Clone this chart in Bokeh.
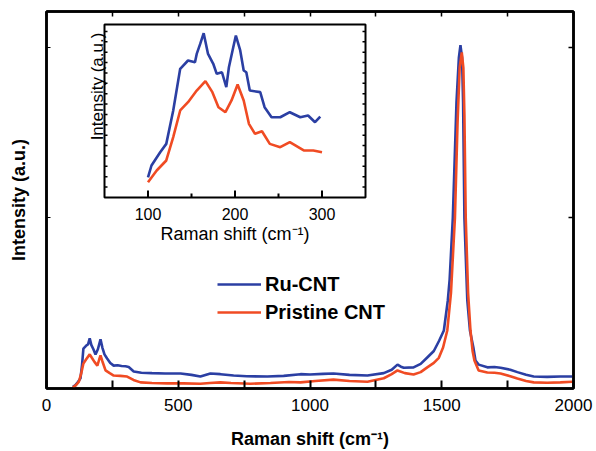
from bokeh.plotting import figure
from bokeh.models import (Range1d, LinearAxis, FixedTicker, Legend, LegendItem)
from bokeh.core.properties import value
from bokeh.embed import file_html
from bokeh.resources import INLINE

# ---------------- data ----------------
ru_x = [100, 110, 120, 129, 135, 140, 150, 158, 164, 170, 178, 186, 195, 205, 212, 220, 230, 242,
        255, 270, 285, 300, 312, 331, 360, 400, 450, 509, 550, 584, 622, 660, 710, 760, 838, 900,
        964, 1000, 1050, 1089, 1150, 1218, 1280, 1310, 1332, 1345, 1356, 1393, 1420, 1445, 1470,
        1490, 1508, 1523, 1530, 1542, 1556, 1565, 1571, 1577, 1581, 1586, 1597, 1607, 1620, 1628,
        1640, 1673, 1700, 1723, 1760, 1787, 1820, 1849, 1900, 1950, 1996]
ru_y = [0.005, 0.01, 0.02, 0.03, 0.07, 0.117, 0.125, 0.13, 0.147, 0.128, 0.115, 0.10, 0.115, 0.144,
        0.12, 0.10, 0.088, 0.075, 0.067, 0.068, 0.066, 0.065, 0.063, 0.05, 0.046, 0.045, 0.044,
        0.044, 0.040, 0.035, 0.044, 0.042, 0.038, 0.036, 0.035, 0.037, 0.042, 0.041, 0.043, 0.044,
        0.040, 0.038, 0.045, 0.055, 0.07, 0.064, 0.061, 0.062, 0.072, 0.091, 0.11, 0.14, 0.17,
        0.258, 0.32, 0.5, 0.84, 0.97, 1.006, 0.97, 0.84, 0.5, 0.258, 0.17, 0.12, 0.082, 0.07,
        0.062, 0.063, 0.061, 0.055, 0.048, 0.04, 0.035, 0.034, 0.035, 0.035]

pr_x = [100, 112, 123, 132, 140, 150, 164, 172, 182, 193, 200, 205, 212, 224, 240, 255, 280, 306,
        330, 357, 400, 458, 520, 584, 620, 660, 700, 774, 850, 920, 964, 1020, 1089, 1150, 1218,
        1280, 1310, 1332, 1360, 1393, 1420, 1445, 1470, 1489, 1505, 1521, 1535, 1550, 1560, 1568,
        1576, 1582, 1586, 1591, 1600, 1609, 1617, 1624, 1640, 1673, 1700, 1723, 1760, 1787, 1820,
        1849, 1900, 1950, 1996]
pr_y = [0.003, 0.01, 0.02, 0.045, 0.073, 0.085, 0.10, 0.09, 0.078, 0.067, 0.085, 0.097, 0.08,
        0.053, 0.045, 0.038, 0.037, 0.035, 0.025, 0.018, 0.016, 0.015, 0.015, 0.014, 0.016, 0.018,
        0.016, 0.014, 0.016, 0.019, 0.018, 0.022, 0.026, 0.022, 0.02, 0.03, 0.042, 0.053, 0.045,
        0.041, 0.048, 0.062, 0.075, 0.09, 0.12, 0.17, 0.28, 0.5, 0.78, 0.94, 0.985, 0.94, 0.8,
        0.5, 0.28, 0.17, 0.11, 0.082, 0.053, 0.047, 0.046, 0.044, 0.036, 0.029, 0.022, 0.018,
        0.017, 0.018, 0.02]

# inset (low-frequency RBM region)
in_ru_x = [100, 104, 114, 121, 129, 137, 146, 154, 156, 160, 164, 169, 175, 179, 185, 190, 193,
           198, 201, 206, 210, 213, 217, 229, 234, 242, 252, 263, 275, 284, 292, 298]
in_ru_y = [0.117, 0.185, 0.262, 0.31, 0.503, 0.744, 0.792, 0.782, 0.83, 0.888, 0.95, 0.83, 0.773,
           0.715, 0.724, 0.638, 0.753, 0.869, 0.936, 0.85, 0.734, 0.724, 0.618, 0.609, 0.522,
           0.464, 0.464, 0.493, 0.464, 0.474, 0.435, 0.468]
in_pr_x = [100, 110, 121, 129, 137, 146, 156, 166, 174, 181, 189, 196, 203, 210, 216, 223, 231,
           240, 252, 263, 279, 290, 300]
in_pr_y = [0.088, 0.156, 0.214, 0.349, 0.503, 0.551, 0.618, 0.673, 0.609, 0.522, 0.493, 0.561,
           0.653, 0.561, 0.426, 0.368, 0.383, 0.31, 0.291, 0.32, 0.272, 0.272, 0.262]

series_names = ["Ru-CNT", "Pristine CNT"]
main_xticks = [0, 250, 500, 750, 1000, 1250, 1500, 1750, 2000]
main_xlabels = {0: "0", 250: "", 500: "500", 750: "", 1000: "1000", 1250: "",
                1500: "1500", 1750: "", 2000: "2000"}
main_yticks = [0.5, 1.0]
inset_major_ticks = [100, 200, 300]
inset_minor_ticks = [150, 250]
inset_tick_labels = ["100", "200", "300"]
inset_yticks = [0.06 * k for k in range(1, 17)]

# ---------------- style / layout ----------------
BLUE = "#2B3FA3"
RED = "#F04B23"
FONT = "Liberation Sans"
W, H = 596, 451
FL, FR, FT, FB = 46, 573, 11, 388          # main frame (screen px)
IL, IR, IT, IB = 104, 365, 24, 197         # inset box (screen px)
IX0, IX1, IY0, IY1 = 50, 350, 0.0, 1.0     # inset data limits

p = figure(width=W, height=H, x_range=Range1d(0, 2000), y_range=Range1d(0, 1.105),
           output_backend="svg", toolbar_location=None,
           min_border_left=FL, min_border_right=W - FR, min_border_top=FT,
           min_border_bottom=H - FB)
p.background_fill_color = "white"
p.border_fill_color = "white"
p.outline_line_color = "black"
p.outline_line_width = 2.5
p.xgrid.grid_line_color = None
p.ygrid.grid_line_color = None

# bottom axis
xa = p.xaxis[0]
xa.ticker = FixedTicker(ticks=main_xticks)
xa.major_label_overrides = main_xlabels
xa.major_tick_in = 8
xa.major_tick_out = 0
xa.major_tick_line_width = 2
xa.major_tick_line_color = "black"
xa.minor_tick_line_color = None
xa.axis_line_width = 2.5
xa.axis_line_color = "black"
xa.major_label_text_font = FONT
xa.major_label_text_font_size = "17px"
xa.major_label_text_color = "black"
xa.major_label_standoff = 10
xa.axis_label = "Raman shift (cm\u207b\u00b9)"
xa.axis_label_text_font = FONT
xa.axis_label_text_font_style = "bold"
xa.axis_label_text_font_size = "18px"
xa.axis_label_text_color = "black"
xa.axis_label_standoff = 15

# left axis
ya = p.yaxis[0]
ya.ticker = FixedTicker(ticks=main_yticks)
ya.major_label_overrides = {t: "" for t in main_yticks}
ya.major_label_text_font_size = "1px"
ya.major_tick_in = 4
ya.major_tick_out = 0
ya.major_tick_line_color = "black"
ya.minor_tick_line_color = None
ya.axis_line_width = 2.5
ya.axis_line_color = "black"
ya.axis_label = "Intensity (a.u.)"
ya.axis_label_text_font = FONT
ya.axis_label_text_font_style = "bold"
ya.axis_label_text_font_size = "18px"
ya.axis_label_text_color = "black"
ya.axis_label_standoff = 18

# mirrored top / right axes (ticks only)
top = LinearAxis(ticker=FixedTicker(ticks=main_xticks),
                 major_label_overrides={t: "" for t in main_xticks},
                 major_label_text_font_size="1px", major_tick_in=5, major_tick_out=0,
                 minor_tick_line_color=None, axis_line_width=2.5, major_tick_line_width=1.5,
                 axis_line_color="black", major_tick_line_color="black")
p.add_layout(top, "above")
right = LinearAxis(ticker=FixedTicker(ticks=main_yticks),
                   major_label_overrides={t: "" for t in main_yticks},
                   major_label_text_font_size="1px", major_tick_in=5, major_tick_out=0,
                   minor_tick_line_color=None, axis_line_width=2.5, major_tick_line_width=1.5,
                   axis_line_color="black", major_tick_line_color="black")
p.add_layout(right, "right")

# main curves
r_ru = p.line(ru_x, ru_y, line_color=BLUE, line_width=2.6)
r_pr = p.line(pr_x, pr_y, line_color=RED, line_width=2.6)

legend = Legend(items=[LegendItem(label=series_names[0], renderers=[r_ru]),
                       LegendItem(label=series_names[1], renderers=[r_pr])],
                location=(171, 62), orientation="vertical",
                glyph_width=44, glyph_height=28, label_height=28, label_standoff=4,
                spacing=0, padding=0, margin=0,
                border_line_color=None, background_fill_alpha=0,
                label_text_font=FONT, label_text_font_style="bold",
                label_text_font_size="20px", label_text_color="black")
p.add_layout(legend)

# ---------------- inset via extra ranges ----------------
sx = (IX1 - IX0) / (IR - IL)       # data units per px
sy = (IY1 - IY0) / (IB - IT)
p.extra_x_ranges = {"ix": Range1d(IX0 - (IL - FL) * sx, IX1 + (FR - IR) * sx)}
p.extra_y_ranges = {"iy": Range1d(IY0 - (FB - IB) * sy, IY1 + (IT - FT) * sy)}
kw = dict(x_range_name="ix", y_range_name="iy")

p.quad(left=[IX0], right=[IX1], bottom=[IY0], top=[IY1], fill_color="white",
       line_color="black", line_width=2, **kw)

# inset bottom ticks
p.segment(x0=inset_major_ticks, x1=inset_major_ticks, y0=[IY0] * 3, y1=[IY0 + 7 * sy] * 3,
          line_color="black", line_width=2, **kw)
p.segment(x0=inset_minor_ticks, x1=inset_minor_ticks, y0=[IY0] * 2, y1=[IY0 + 4 * sy] * 2,
          line_color="black", line_width=2, **kw)
# inset left / right ticks
n = len(inset_yticks)
p.segment(x0=[IX0] * n, x1=[IX0 + 3 * sx] * n, y0=inset_yticks, y1=inset_yticks,
          line_color="black", line_width=1.5, **kw)
p.segment(x0=[IX1] * n, x1=[IX1 - 3 * sx] * n, y0=inset_yticks, y1=inset_yticks,
          line_color="black", line_width=1.5, **kw)

p.line(in_ru_x, in_ru_y, line_color=BLUE, line_width=2.6, **kw)
p.line(in_pr_x, in_pr_y, line_color=RED, line_width=2.6, **kw)

# inset texts
p.text(x=inset_major_ticks, y=[IY0 - 16 * sy] * 3, text=inset_tick_labels,
       text_font=value(FONT), text_font_size="16px", text_align="center",
       text_baseline="middle", text_color="black", **kw)
p.text(x=[(IX0 + IX1) / 2], y=[IY0 - 36 * sy], text=["Raman shift (cm\u207b\u00b9)"],
       text_font=value(FONT), text_font_size="18px", text_align="center",
       text_baseline="middle", text_color="black", **kw)
p.text(x=[IX0 - 7 * sx], y=[IY1 - 62 * sy], text=["Intensity (a.u.)"], angle=1.5708,
       text_font=value(FONT), text_font_size="17px", text_align="center",
       text_baseline="middle", text_color="black", **kw)

open("out.html", "w").write(file_html(p, INLINE))
